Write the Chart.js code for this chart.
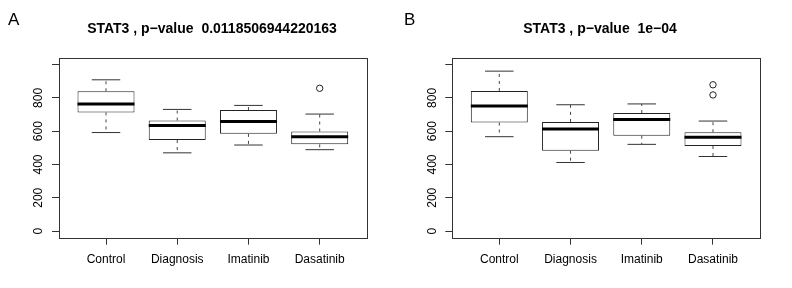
<!DOCTYPE html>
<html>
<head>
<meta charset="utf-8">
<script src="https://cdn.jsdelivr.net/npm/chart.js@4.4.1/dist/chart.umd.min.js"></script>
<style>
html,body{margin:0;padding:0;background:#fff;}
#wrap{position:relative;width:792px;height:288px;overflow:hidden;font-family:'Liberation Sans',Arial,Helvetica,sans-serif;color:#000;}
canvas{position:absolute;top:0;}
.panel{position:absolute;font-size:17px;line-height:17px;}
.title{position:absolute;font-size:14px;line-height:14px;font-weight:bold;white-space:pre;text-align:center;width:300px;}
</style>
</head>
<body>
<div id="wrap">
  <canvas id="cA" width="396" height="288" style="left:0px"></canvas>
  <canvas id="cB" width="396" height="288" style="left:396px"></canvas>
  <div class="panel" style="left:8px;top:11px">A</div>
  <div class="panel" style="left:404px;top:11px">B</div>
  <div class="title" id="tA" style="left:62px;top:21px"></div>
  <div class="title" id="tB" style="left:450px;top:21px"></div>
</div>
<script>
// ---- data ----
const categories = ['Control', 'Diagnosis', 'Imatinib', 'Dasatinib'];
const yTickValues = [0, 200, 400, 600, 800, 1000];
const yTickLabels = ['0', '200', '400', '600', '800', ''];

const titleA = 'STAT3 , p\u2212value  0.0118506944220163';
const aLower  = [592, 470, 517, 489];
const aQ1     = [713, 547, 584, 521];
const aMedian = [764, 634, 658, 567];
const aQ3     = [840, 664, 727, 598];
const aUpper  = [909, 731, 755, 703];
const aOutliers = [[], [], [], [858]];

const titleB = 'STAT3 , p\u2212value  1e\u221204';
const bLower  = [567, 412, 521, 448];
const bQ1     = [652, 483, 573, 511];
const bMedian = [752, 614, 670, 564];
const bQ3     = [842, 656, 709, 594];
const bUpper  = [961, 759, 764, 661];
const bOutliers = [[], [], [], [879, 818]];

// ---- styling constants ----
const FONT = "'Liberation Sans', Arial, Helvetica, sans-serif";
const BOX_HALF = 0.4, CAP_HALF = 0.2;
const LINE = '#333';

document.getElementById('tA').textContent = titleA;
document.getElementById('tB').textContent = titleB;

function seg(points, opts) {
  return Object.assign({
    type: 'line', data: points, order: 0,
    borderColor: LINE, borderWidth: 1, pointRadius: 0, fill: false,
    tension: 0
  }, opts || {});
}

function buildDatasets(lower, q1, median, q3, upper, outliers) {
  const ds = [];
  ds.push({
    type: 'bar', order: 10,
    data: categories.map((c, i) => ({ x: i + 1, y: [q1[i], q3[i]] })),
    backgroundColor: '#fff', borderColor: '#222', borderWidth: 1,
    borderSkipped: false, barPercentage: 0.8, categoryPercentage: 1
  });
  categories.forEach((c, i) => {
    const x = i + 1;
    ds.push(seg([{ x, y: q3[i] }, { x, y: upper[i] }], { borderDash: [3, 4], borderColor: '#444' }));
    ds.push(seg([{ x, y: q1[i] }, { x, y: lower[i] }], { borderDash: [3, 4], borderColor: '#444' }));
    ds.push(seg([{ x: x - CAP_HALF, y: upper[i] }, { x: x + CAP_HALF, y: upper[i] }]));
    ds.push(seg([{ x: x - CAP_HALF, y: lower[i] }, { x: x + CAP_HALF, y: lower[i] }]));
    ds.push(seg([{ x: x - BOX_HALF, y: median[i] }, { x: x + BOX_HALF, y: median[i] }], { borderWidth: 3, borderColor: '#000' }));
  });
  ds.push({
    type: 'scatter', order: 0,
    data: outliers.flatMap((arr, i) => arr.map(v => ({ x: i + 1, y: v }))),
    pointRadius: 3.2, pointBackgroundColor: 'rgba(0,0,0,0)',
    pointBorderColor: '#222', pointBorderWidth: 1, showLine: false
  });
  return ds;
}

const framePlugin = {
  id: 'frame',
  afterDatasetsDraw(chart) {
    const { ctx, chartArea: a } = chart;
    const l = Math.round(a.left), t = Math.round(a.top), r = Math.round(a.right), b = Math.round(a.bottom);
    ctx.save();
    ctx.strokeStyle = LINE;
    ctx.lineWidth = 1;
    ctx.strokeRect(l + 0.5, t + 0.5, r - l, b - t);
    ctx.restore();
  }
};

function makeChart(id, datasets, yAxisWidth, rightPad) {
  return new Chart(document.getElementById(id), {
    type: 'bar',
    data: { datasets },
    plugins: [framePlugin],
    options: {
      responsive: false,
      animation: false,
      devicePixelRatio: 1,
      events: [],
      layout: { padding: { top: 58, right: rightPad, bottom: 0, left: 0 } },
      plugins: { legend: { display: false }, tooltip: { enabled: false }, title: { display: false } },
      scales: {
        x: {
          type: 'linear', min: 0.34, max: 4.66, offset: false,
          afterBuildTicks: s => { s.ticks = categories.map((c, i) => ({ value: i + 1 })); },
          afterFit: s => { s.height = 50.3; },
          border: { display: false },
          grid: { offset: false, drawOnChartArea: false, drawTicks: true, tickLength: 7, color: LINE, tickColor: LINE },
          ticks: {
            autoSkip: false, maxRotation: 0, minRotation: 0, padding: 8,
            color: '#000', font: { family: FONT, size: 12 },
            callback: (v, i) => categories[i]
          }
        },
        y: {
          type: 'linear', min: -40, max: 1040,
          afterBuildTicks: s => { s.ticks = yTickValues.map(v => ({ value: v })); },
          afterFit: s => { s.width = yAxisWidth; },
          border: { display: false },
          grid: { drawOnChartArea: false, drawTicks: true, tickLength: 7, color: LINE, tickColor: LINE },
          ticks: {
            minRotation: 90, maxRotation: 90, crossAlign: 'center', padding: 3,
            color: '#000', font: { family: FONT, size: 12 },
            callback: (v, i) => yTickLabels[i]
          }
        }
      }
    }
  });
}

makeChart('cA', buildDatasets(aLower, aQ1, aMedian, aQ3, aUpper, aOutliers), 59, 29.3);
makeChart('cB', buildDatasets(bLower, bQ1, bMedian, bQ3, bUpper, bOutliers), 56.3, 32);
</script>
</body>
</html>
